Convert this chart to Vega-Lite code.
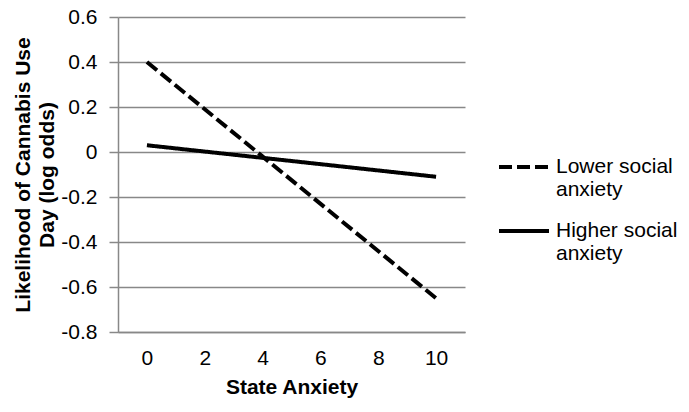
{
  "$schema": "https://vega.github.io/schema/vega-lite/v6.json",
  "width": 347,
  "height": 315,
  "autosize": {"type": "none"},
  "padding": {"left": 118, "top": 17, "right": 224, "bottom": 80},
  "background": "white",
  "config": {
    "view": {"stroke": null},
    "font": "Liberation Sans",
    "axis": {"labelFont": "Liberation Sans", "titleFont": "Liberation Sans", "labelColor": "black", "titleColor": "black"}
  },
  "data": {
    "values": [
      {"state": 0, "group": "Lower social anxiety", "value": 0.4},
      {"state": 10, "group": "Lower social anxiety", "value": -0.65},
      {"state": 0, "group": "Higher social anxiety", "value": 0.03},
      {"state": 10, "group": "Higher social anxiety", "value": -0.11}
    ]
  },
  "mark": {"type": "line", "color": "black", "strokeWidth": 4},
  "encoding": {
    "x": {
      "field": "state",
      "type": "quantitative",
      "scale": {"domain": [-1, 11], "nice": false, "zero": false},
      "axis": {
        "values": [0, 2, 4, 6, 8, 10],
        "title": "State Anxiety",
        "titleFontSize": 21,
        "titleFontWeight": "bold",
        "labelFontSize": 21,
        "ticks": false,
        "grid": false,
        "domainColor": "#888888",
        "domainWidth": 1.5,
        "labelPadding": 15,
        "titlePadding": 8
      }
    },
    "y": {
      "field": "value",
      "type": "quantitative",
      "scale": {"domain": [-0.8, 0.6], "nice": false, "zero": false},
      "axis": {
        "values": [-0.8, -0.6, -0.4, -0.2, 0, 0.2, 0.4, 0.6],
        "labelExpr": "datum.value == 0 ? '0' : (datum.value < 0 ? '-' + format(abs(datum.value), '.1f') : format(datum.value, '.1f'))",
        "title": ["Likelihood of Cannabis Use", "Day (log odds)"],
        "titleFontSize": 21,
        "titleFontWeight": "bold",
        "titleLineHeight": 24,
        "labelFontSize": 21,
        "tickSize": 9,
        "tickColor": "#888888",
        "tickWidth": 1.5,
        "labelPadding": 12,
        "gridColor": "#888888",
        "gridWidth": 1.5,
        "domainColor": "#888888",
        "domainWidth": 1.5,
        "titlePadding": 3
      }
    },
    "strokeDash": {
      "field": "group",
      "type": "nominal",
      "scale": {
        "domain": ["Lower social anxiety", "Higher social anxiety"],
        "range": [[13, 5], [1, 0]]
      },
      "legend": {
        "title": null,
        "orient": "none",
        "legendX": 379,
        "legendY": 123,
        "symbolType": "stroke",
        "symbolStrokeColor": "black",
        "symbolStrokeWidth": 4,
        "symbolSize": 2500,
        "labelFontSize": 21,
        "labelColor": "black",
        "labelLimit": 300,
        "labelLineHeight": 26,
        "labelBaseline": "middle",
        "labelOffset": 5,
        "rowPadding": 4,
        "labelExpr": "datum.label == 'Lower social anxiety' ? ['Lower social', 'anxiety'] : ['Higher social', 'anxiety']"
      }
    }
  }
}
